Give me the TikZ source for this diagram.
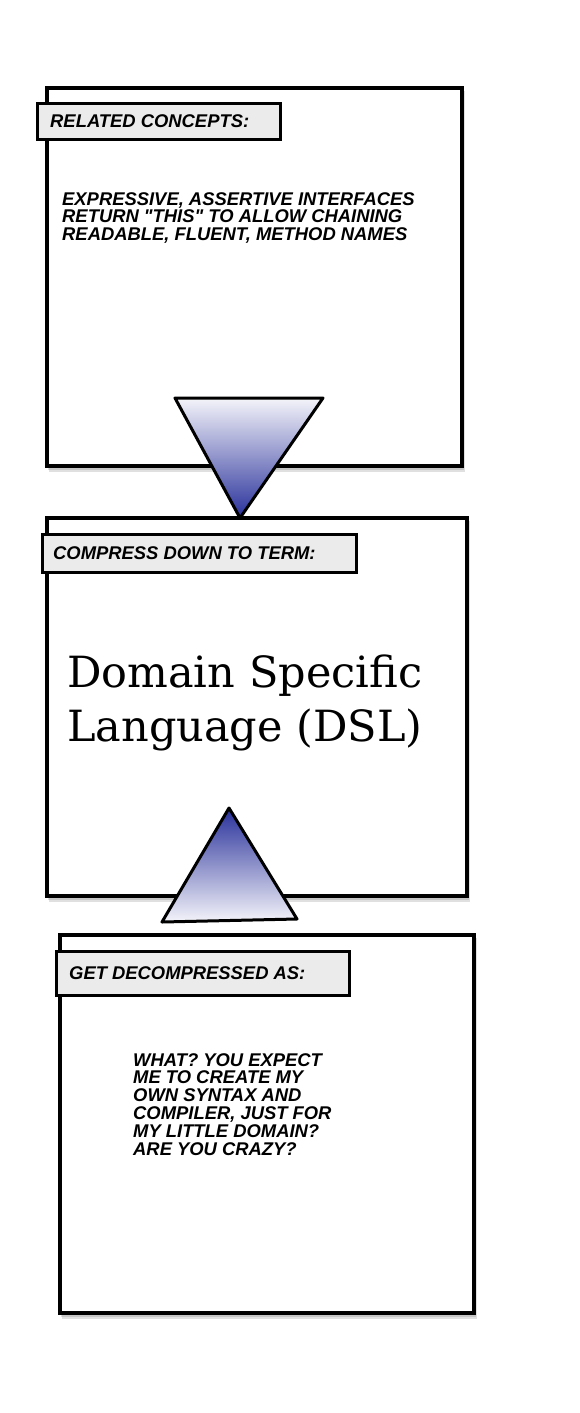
\documentclass[tikz,border=0pt]{standalone}
\usepackage{fontspec}
\newfontfamily\comicfont{Liberation Sans}
\newfontfamily\slabfont{DejaVu Serif}
\definecolor{labelgray}{HTML}{EBEBEB}
\definecolor{tridark}{HTML}{28309A}
\definecolor{trilight}{HTML}{F4F4FA}
\tikzset{
  panel/.style={draw=black, line width=3.2pt, fill=white},
  panelshadow/.style={fill=black, opacity=0.12},
  tag/.style={draw=black, line width=3pt, fill=labelgray},
  tagtext/.style={anchor=west, inner sep=0pt, font=\comicfont\bfseries\itshape\fontsize{18.4}{18}\selectfont},
  bodytext/.style={anchor=north west, inner sep=0pt, align=left, font=\comicfont\bfseries\itshape\fontsize{18.4}{17.9}\selectfont},
  bigtext/.style={anchor=north west, inner sep=0pt, align=left, font=\slabfont\fontsize{43}{54}\selectfont},
  funnel/.style={draw=black, line width=3pt, line join=round}
}
\begin{document}
\begin{tikzpicture}[x=1pt,y=-1pt]
\useasboundingbox (0,0) rectangle (580,1413);
% shadows
\foreach \a/\b/\c/\d in {47/88/462/466, 47/518/467/896, 60/935/474/1313}{
  \fill[panelshadow] (\a+1,\b+2) rectangle (\c+2,\d+4);
  \fill[panelshadow] (\a+2,\b+3) rectangle (\c+3,\d+6);
}
% panels
\draw[panel] (47,88) rectangle (462,466);
\draw[panel] (47,518) rectangle (467,896);
\draw[panel] (60,935) rectangle (474,1313);
% tags
\draw[tag] (37,103) rectangle (280,139);
\node[tagtext] (tag1) at (50,121.5) {RELATED CONCEPTS:};
\draw[tag] (42,534) rectangle (356,572);
\node[tagtext] (tag2) at (53,553) {COMPRESS DOWN TO TERM:};
\draw[tag] (56,951) rectangle (349,995);
\node[tagtext] (tag3) at (69,973) {GET DECOMPRESSED AS:};
% texts
\node[bodytext] (concepts) at (62,192) {EXPRESSIVE, ASSERTIVE INTERFACES\\RETURN "THIS" TO ALLOW CHAINING\\READABLE, FLUENT, METHOD NAMES};
\node[bigtext] (term) at (67,655) {Domain Specific\\Language (DSL)};
\node[bodytext] (decomp) at (133,1053) {WHAT? YOU EXPECT\\ME TO CREATE MY\\OWN SYNTAX AND\\COMPILER, JUST FOR\\MY LITTLE DOMAIN?\\ARE YOU CRAZY?};
% funnels
\shade[top color=trilight, bottom color=tridark] (175,398) -- (323,398) -- (240,518) -- cycle;
\draw[funnel] (175,398) -- (323,398) -- (240,518) -- cycle;
\shade[top color=tridark, bottom color=trilight] (229,808) -- (297,919) -- (162,922) -- cycle;
\draw[funnel] (229,808) -- (297,919) -- (162,922) -- cycle;
\end{tikzpicture}
\end{document}
